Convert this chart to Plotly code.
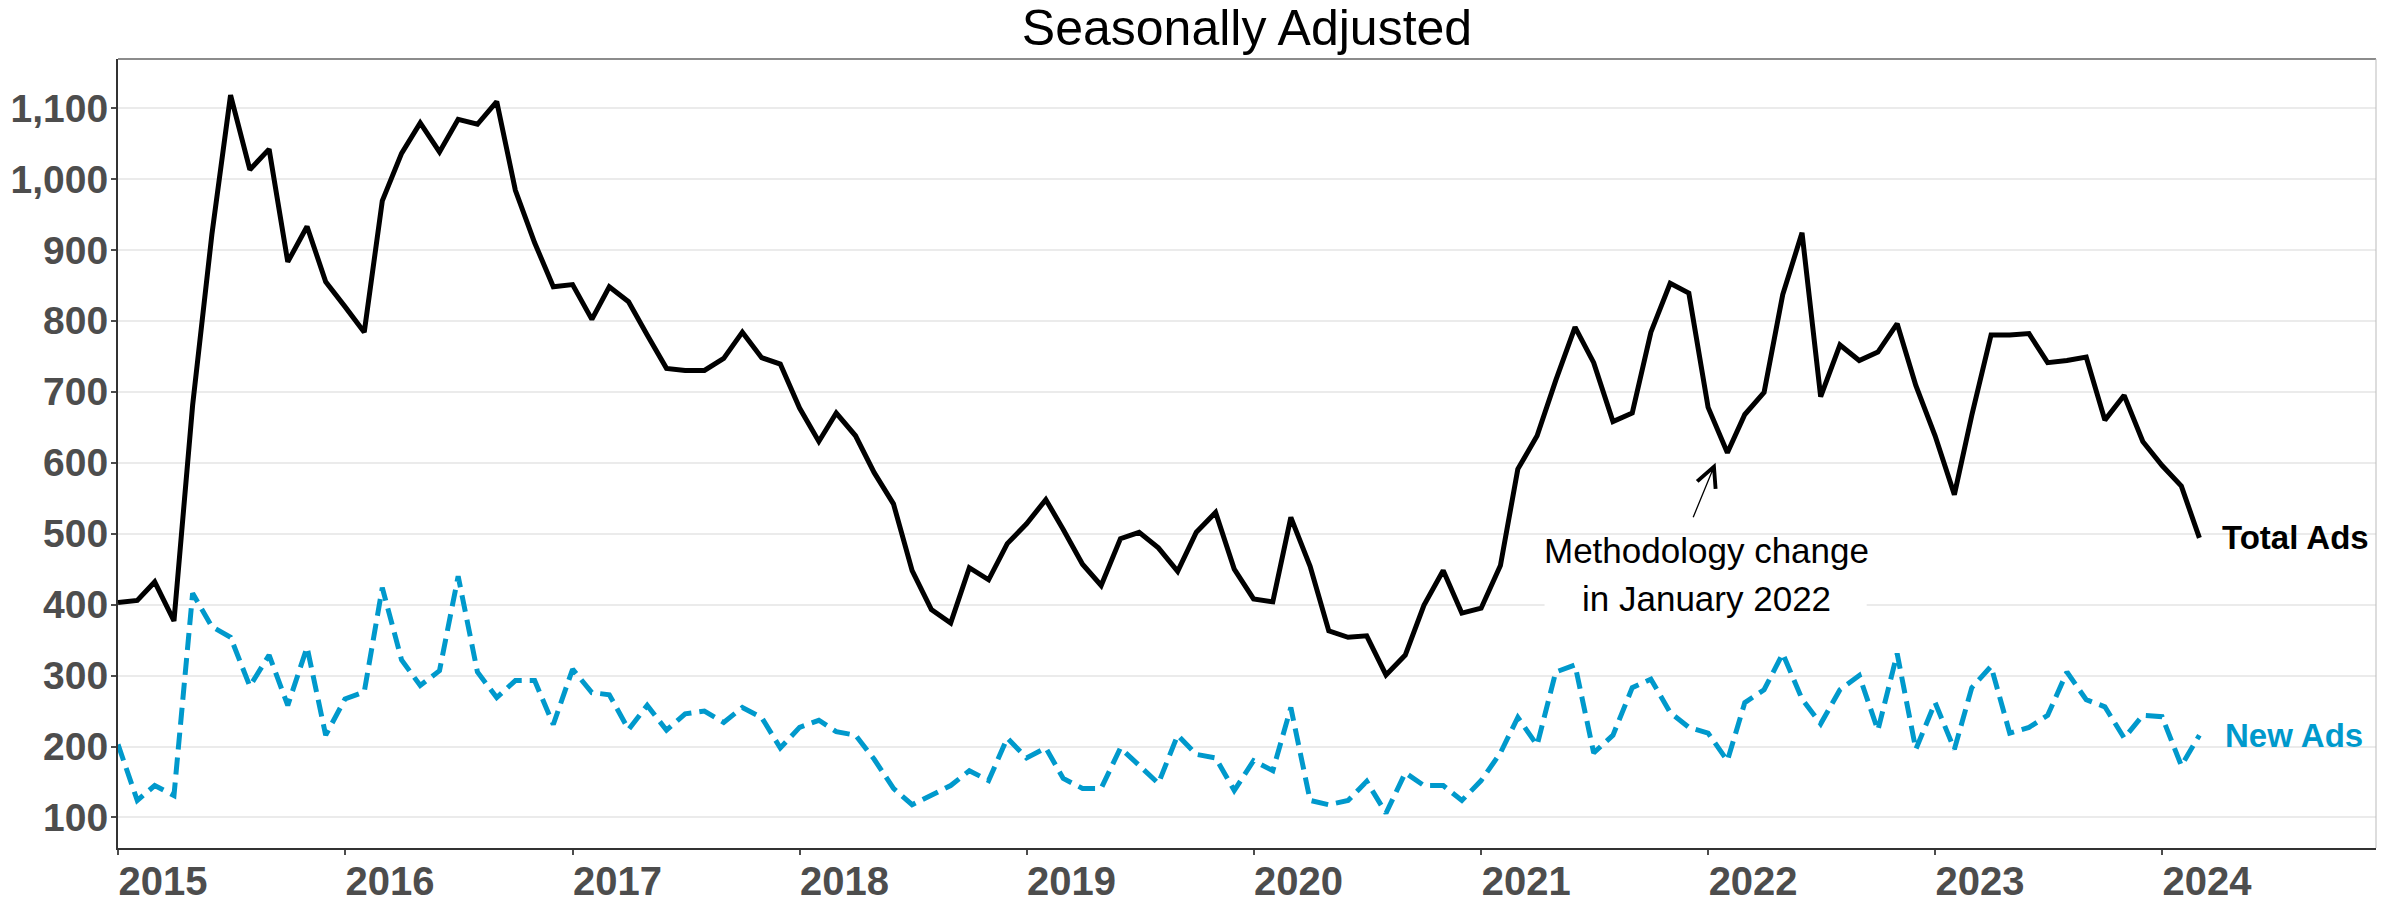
import plotly.graph_objects as go
import pandas as pd

# ---- data (monthly, Jan 2015 - Mar 2024) ----
months = pd.date_range("2015-01-01", periods=111, freq="MS")

total_ads = [
    403, 406, 432, 377, 681, 922, 1118, 1013, 1042, 883, 933, 855,
    820, 784, 969, 1036, 1079, 1038, 1084, 1077, 1109, 984, 910, 848,
    851, 802, 848, 827, 780, 733, 730, 730, 747, 784, 748, 739,
    677, 630, 670, 638, 586, 542, 448, 393, 374, 452, 435, 486,
    514, 548, 506, 457, 427, 493, 502, 480, 447, 502, 530, 450,
    408, 404, 523, 454, 363, 354, 356, 301, 329, 399, 448, 388,
    395, 455, 591, 638, 716, 791, 741, 658, 670, 784, 853, 839,
    678, 614, 668, 699, 837, 924, 693, 766, 744, 756, 796, 709,
    638, 555, 667, 780, 780, 782, 741, 744, 749, 660, 695, 630,
    596, 567, 494,
]

new_ads = [
    203, 124, 145, 131, 416, 369, 354, 285, 329, 258, 340, 216,
    267, 277, 424, 322, 286, 307, 440, 305, 269, 293, 293, 231,
    309, 276, 273, 224, 258, 223, 246, 250, 234, 255, 241, 198,
    227, 237, 221, 216, 182, 141, 118, 131, 145, 166, 152, 212,
    184, 198, 155, 141, 141, 198, 173, 148, 216, 189, 184, 138,
    180, 166, 255, 124, 118, 124, 151, 106, 163, 145, 145, 124,
    152, 191, 241, 202, 305, 315, 191, 216, 283, 295, 248, 227,
    219, 180, 262, 280, 331, 267, 232, 280, 300, 223, 331, 196,
    262, 196, 283, 313, 219, 227, 244, 305, 266, 256, 212, 244,
    242, 173, 216,
]

year_ticks = [f"{y}-01-01" for y in range(2015, 2025)]
year_labels = [str(y) for y in range(2015, 2025)]
y_ticks = list(range(100, 1101, 100))

title_text = "Seasonally Adjusted"
note_line1 = "Methodology change"
note_line2 = "in January 2022"

BLUE = "#0099cc"
FONT = "Liberation Sans, Arial, sans-serif"

fig = go.Figure()
fig.add_trace(go.Scatter(x=months, y=total_ads, mode="lines", name="Total Ads",
                         line=dict(color="black", width=5), showlegend=False))
fig.add_trace(go.Scatter(x=months, y=new_ads, mode="lines", name="New Ads",
                         line=dict(color=BLUE, width=5, dash="17px,8px"), showlegend=False))

# end labels
fig.add_annotation(x="2024-04-03", y=total_ads[-1], text="Total Ads", showarrow=False,
                   xanchor="left", yanchor="middle",
                   font=dict(family=FONT, size=33, color="black", weight=700))
fig.add_annotation(x="2024-04-08", y=new_ads[-1], text="New Ads", showarrow=False,
                   xanchor="left", yanchor="middle",
                   font=dict(family=FONT, size=33, color=BLUE, weight=700))

# methodology note: white box hiding gridlines, two text lines, arrow
fig.add_shape(type="rect", x0="2021-04-13", x1="2022-09-13", y0=371, y1=496,
              fillcolor="white", line=dict(width=0), layer="between")
fig.add_annotation(x="2021-12-29", y=477, text=note_line1, showarrow=False,
                   xanchor="center", yanchor="middle",
                   font=dict(family=FONT, size=35, color="black"))
fig.add_annotation(x="2021-12-29", y=409, text=note_line2, showarrow=False,
                   xanchor="center", yanchor="middle",
                   font=dict(family=FONT, size=35, color="black"))
fig.add_annotation(x="2022-01-13", y=600, text="", showarrow=True,
                   axref="pixel", ayref="pixel", ax=-23, ay=56,
                   arrowhead=5, arrowsize=3, arrowwidth=1.3, arrowcolor="black")

# panel border (top / right)
fig.add_shape(type="line", xref="paper", yref="paper", x0=0, x1=1, y0=1, y1=1,
              line=dict(color="#666666", width=1.5))
fig.add_shape(type="line", xref="paper", yref="paper", x0=1, x1=1, y0=0, y1=1,
              line=dict(color="#bbbbbb", width=1))

fig.update_layout(
    width=2395, height=904,
    margin=dict(l=118, r=19, t=59, b=56),
    paper_bgcolor="white", plot_bgcolor="white",
    title=dict(text=title_text, x=0.5, xref="paper", xanchor="center",
               y=1 - 27 / 904, yref="container", yanchor="middle",
               font=dict(family=FONT, size=50, color="black")),
    xaxis=dict(type="date", range=["2015-01-01", "2024-12-10"], automargin=False,
               tickmode="array", tickvals=year_ticks, ticktext=year_labels,
               showgrid=False, zeroline=False,
               showline=True, linecolor="#333333", linewidth=2,
               ticks="outside", ticklen=5, tickwidth=1.5, tickcolor="#4d4d4d",
               ticklabelshift=45, ticklabelstandoff=-8,
               tickfont=dict(family=FONT, size=40, color="#4d4d4d", weight=700)),
    yaxis=dict(range=[57, 1169], tickmode="array", tickvals=y_ticks, automargin=False,
               tickformat=",", showgrid=True, gridcolor="#ebebeb", gridwidth=2,
               zeroline=False, showline=True, linecolor="#333333", linewidth=2,
               ticks="outside", ticklen=5, tickwidth=1.5, tickcolor="#4d4d4d",
               ticklabelstandoff=-5,
               tickfont=dict(family=FONT, size=39, color="#4d4d4d", weight=700)),
)

fig.write_html("out.html", config={"displayModeBar": False})

# remove the browser's default page margin so the figure sits at (0, 0)
with open("out.html", "r", encoding="utf-8") as f:
    html = f.read()
html = html.replace("<head>", "<head><style>html,body{margin:0;padding:0;overflow:hidden;}</style>", 1)
with open("out.html", "w", encoding="utf-8") as f:
    f.write(html)
